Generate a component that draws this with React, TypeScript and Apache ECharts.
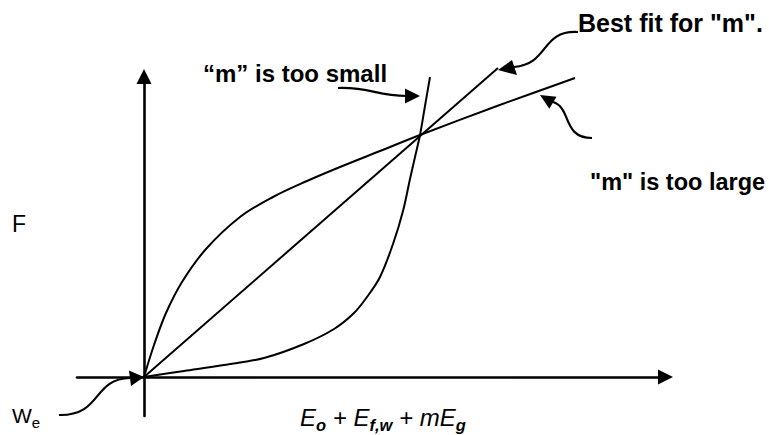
import React, { useEffect, useRef } from "react";
import * as echarts from "echarts";

// Sketch of F against E_o + E_f,w + mE_g for three trial values of m.
// Units on both axes are arbitrary; the three traces meet at one point.
const bestFit: [number, number][] = [
  [0, 0],
  [354, 309],
];

const mTooLarge: [number, number][] = [
  [0, 0],
  [10, 32],
  [22, 64],
  [38, 95],
  [62, 128],
  [96, 160],
  [129, 180],
  [163, 196],
  [196, 210],
  [236, 226],
  [276, 242],
  [353, 271],
  [431, 299],
];

const mTooSmall: [number, number][] = [
  [0, 0],
  [40, 6],
  [80, 12],
  [120, 19],
  [160, 33],
  [190, 48],
  [210, 64],
  [223, 80],
  [236, 100],
  [249, 133],
  [259, 166],
  [266, 198],
  [271, 220],
  [276, 242],
  [281, 271],
  [286, 300],
];

const xExtent = [-67, 521.5];
const yExtent = [-39, 300.5];

const labelSmall = "\u201cm\u201d is too small";
const labelBest = 'Best fit for "m".';
const labelLarge = '"m" is too large';
const yName = "F";
const originName = ["W", "e"];
const xNameParts = ["E", "o", " + E", "f,w", " + mE", "g"];

const FONT = '"Liberation Sans", Arial, Helvetica, sans-serif';
const INK = "#000";

function arrowHead(tip: [number, number], b1: [number, number], b2: [number, number]) {
  return {
    type: "polygon",
    shape: { points: [tip, b1, b2] },
    style: { fill: INK },
    silent: true,
  };
}

function curve(
  p1: [number, number],
  c1: [number, number],
  c2: [number, number],
  p2: [number, number]
) {
  return {
    type: "bezierCurve",
    shape: {
      x1: p1[0],
      y1: p1[1],
      cpx1: c1[0],
      cpy1: c1[1],
      cpx2: c2[0],
      cpy2: c2[1],
      x2: p2[0],
      y2: p2[1],
    },
    style: { stroke: INK, lineWidth: 2.2, fill: null },
    silent: true,
  };
}

function boldLabel(text: string, x: number, baseline: number, size: number) {
  return {
    type: "text",
    x,
    y: baseline - 0.35 * size,
    style: {
      text,
      fill: INK,
      fontFamily: FONT,
      fontWeight: "bold",
      fontSize: size,
      verticalAlign: "middle",
      align: "left",
    },
    silent: true,
  };
}

export default function App() {
  const ref = useRef<HTMLDivElement>(null);

  useEffect(() => {
    if (!ref.current) return;
    const chart = echarts.init(ref.current, undefined, { renderer: "svg" });

    const axisLine = {
      show: true,
      onZero: true,
      symbol: ["none", "triangle"],
      symbolSize: [15, 15],
      lineStyle: { color: INK, width: 2.6 },
    };

    const lineSeries = (name: string, data: [number, number][]) => ({
      name,
      type: "line",
      data,
      showSymbol: false,
      smooth: 0.35,
      clip: false,
      lineStyle: { color: INK, width: 2 },
      silent: true,
    });

    chart.setOption({
      animation: false,
      backgroundColor: "#fff",
      grid: { left: 77, right: 103.5, top: 76.5, bottom: 19, containLabel: false },
      xAxis: {
        type: "value",
        min: xExtent[0],
        max: xExtent[1],
        axisLine,
        axisTick: { show: false },
        axisLabel: { show: false },
        splitLine: { show: false },
      },
      yAxis: {
        type: "value",
        min: yExtent[0],
        max: yExtent[1],
        axisLine,
        axisTick: { show: false },
        axisLabel: { show: false },
        splitLine: { show: false },
      },
      series: [
        lineSeries("best fit", bestFit),
        lineSeries("m too large", mTooLarge),
        lineSeries("m too small", mTooSmall),
      ],
      graphic: [
        boldLabel(labelSmall, 203, 82, 24),
        boldLabel(labelBest, 578, 32, 25),
        boldLabel(labelLarge, 590, 190, 23.5),
        {
          type: "text",
          x: 12,
          y: 232 - 0.35 * 23,
          style: {
            text: yName,
            fill: INK,
            fontFamily: FONT,
            fontSize: 23,
            verticalAlign: "middle",
          },
          silent: true,
        },
        {
          type: "text",
          x: 12,
          y: 417,
          style: {
            text: `{w|${originName[0]}}{e|${originName[1]}}`,
            fill: INK,
            verticalAlign: "middle",
            rich: {
              w: { fontFamily: FONT, fontSize: 21, fill: INK, verticalAlign: "bottom", padding: [0, 0, 4, 0] },
              e: { fontFamily: FONT, fontSize: 15, fill: INK, verticalAlign: "bottom" },
            },
          },
          silent: true,
        },
        {
          type: "text",
          x: 300,
          y: 419,
          style: {
            text:
              `{i|${xNameParts[0]}}{s|${xNameParts[1]}}` +
              `{i|${xNameParts[2]}}{s|${xNameParts[3]}}` +
              `{i|${xNameParts[4]}}{s|${xNameParts[5]}}`,
            fill: INK,
            verticalAlign: "middle",
            rich: {
              i: {
                fontFamily: FONT,
                fontStyle: "italic",
                fontSize: 24,
                fill: INK,
                verticalAlign: "bottom",
                padding: [0, 0, 4, 0],
              },
              s: {
                fontFamily: FONT,
                fontStyle: "italic",
                fontWeight: "bold",
                fontSize: 16.5,
                fill: INK,
                verticalAlign: "bottom",
              },
            },
          },
          silent: true,
        },
        // pointer from W_e to the origin
        curve([59, 415], [102, 416], [92, 379], [130, 378]),
        arrowHead([144, 377], [129, 370.5], [131, 386]),
        // pointer to the steep trace
        curve([338, 88], [372, 87], [375, 96], [407, 96]),
        arrowHead([420, 96], [405, 88.5], [405, 103.5]),
        // pointer to the end of the best-fit line
        curve([578, 32], [540, 30], [550, 64], [514, 67]),
        arrowHead([498, 70], [512, 60], [517, 75]),
        // pointer to the shallow trace
        curve([592, 138], [562, 138], [572, 108], [553, 102]),
        arrowHead([540, 95], [549.3, 108.7], [556.5, 96.7]),
      ],
    });

    return () => chart.dispose();
  }, []);

  return (
    <div
      ref={ref}
      style={{ position: "fixed", left: 0, top: 0, width: 769, height: 435, background: "#fff" }}
    />
  );
}
